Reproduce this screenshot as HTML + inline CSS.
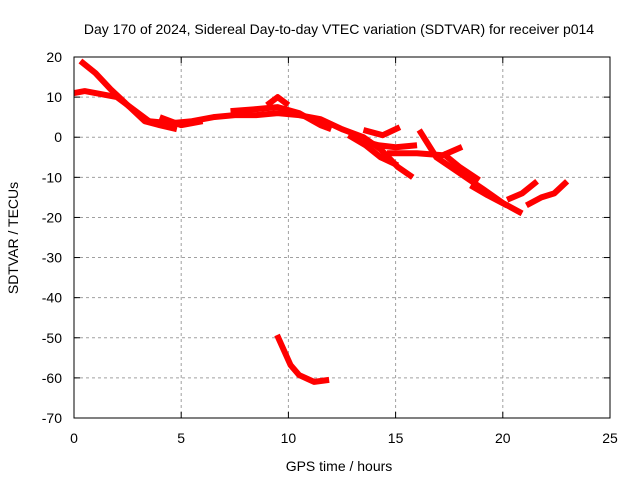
<!DOCTYPE html>
<html><head><meta charset="utf-8"><style>
body{margin:0;background:#fff}
svg{display:block;font-family:"Liberation Sans",sans-serif;font-size:14px}
</style></head><body>
<svg id="chart" width="640" height="480">
<rect width="640" height="480" fill="#fff"/>
<text x="339" y="34" text-anchor="middle">Day 170 of 2024, Sidereal Day-to-day VTEC variation (SDTVAR) for receiver p014</text>
<text x="339" y="471" text-anchor="middle">GPS time / hours</text>
<text x="18" y="238" text-anchor="middle" transform="rotate(-90 18 238)">SDTVAR / TECUs</text>
<g id="grid"></g><g id="series"></g>
<rect x="74" y="57" width="536" height="361" fill="none" stroke="#000"/>
</svg>
<script>
const xTicks=[0,5,10,15,20,25];
const yTicks=[20,10,0,-10,-20,-30,-40,-50,-60,-70];
const trackA_h=[0.3,1,1.7,2.5,3.3,4,4.8];
const trackA_v=[19,16,12,8,4,3,2];
const trackB_h=[0,0.5,1,1.5,2,2.5,3,3.5];
const trackB_v=[11,11.5,11,10.5,10,8,6,4];
const trackC_h=[3.5,4.5,5.5,6.5,7.5,8.5,9.5,10.5,11.5,12.5,13.5,14.3,15.1,15.8];
const trackC_v=[4,3.5,4,5,5.5,5.5,6,5.5,4.5,2,0,-3,-7.4,-10];
const trackD_h=[9,9.5,10];
const trackD_v=[8,10,8];
const trackE_h=[7.3,8.5,9.5,10.5,11.5,12];
const trackE_v=[6.5,7,7.5,6,3,2];
const trackF_h=[4,5,6];
const trackF_v=[5,3,4];
const trackG_h=[13.5,14.4,15.2];
const trackG_v=[1.8,0.5,2.5];
const trackH_h=[14.6,16,17.2,18.1];
const trackH_v=[-4,-4,-4.5,-2.4];
const trackI_h=[16.1,16.9,18,19.1,20,20.9];
const trackI_v=[1.8,-5,-9,-13,-16.4,-19];
const trackJ_h=[17.2,18,18.9];
const trackJ_v=[-4,-7.5,-10.7];
const trackK_h=[21.1,21.8,22.4,23];
const trackK_v=[-17,-15,-14,-11];
const trackL_h=[20.2,20.9,21.6];
const trackL_v=[-15.6,-14,-11];
const trackN_h=[12.8,13.6,14.3,15.1];
const trackN_v=[0.5,-2,-5,-7];
const trackO_h=[13.5,14.2,15,16];
const trackO_v=[-1,-2,-2.5,-2];
const trackP_h=[18.5,19.3,20.2];
const trackP_v=[-12,-14.5,-17];
const trackM_h=[9.47,10.1,10.5,11.2,11.9];
const trackM_v=[-49.3,-56.8,-59.3,-61,-60.5];
const tracks=[[trackA_h,trackA_v],[trackB_h,trackB_v],[trackC_h,trackC_v],[trackD_h,trackD_v],[trackE_h,trackE_v],[trackF_h,trackF_v],[trackG_h,trackG_v],[trackH_h,trackH_v],[trackI_h,trackI_v],[trackJ_h,trackJ_v],[trackK_h,trackK_v],[trackL_h,trackL_v],[trackN_h,trackN_v],[trackO_h,trackO_v],[trackP_h,trackP_v],[trackM_h,trackM_v]];
const X=h=>74+h*(536/25);
const Y=v=>57+(20-v)*(361/90);
const NS='http://www.w3.org/2000/svg';
const grid=document.getElementById('grid'),ser=document.getElementById('series');
function mk(tag,at,parent){const e=document.createElementNS(NS,tag);for(const k in at)e.setAttribute(k,at[k]);parent.appendChild(e);return e;}
xTicks.forEach(t=>{const x=X(t);
 if(t>0&&t<25){const g=mk('line',{x1:x,x2:x,y1:57,y2:418,stroke:'#a0a0a0','stroke-dasharray':'3,3'},grid);
 
 }
 mk('line',{x1:x,x2:x,y1:418,y2:412,stroke:'#000'},grid);mk('line',{x1:x,x2:x,y1:57,y2:63,stroke:'#000'},grid);
 const l=mk('text',{x:x,y:443,'text-anchor':'middle'},grid);l.textContent=t;
 
 });
yTicks.forEach(t=>{const y=Y(t);
 if(t<20&&t>-70){const g=mk('line',{x1:74,x2:610,y1:y,y2:y,stroke:'#a0a0a0','stroke-dasharray':'3,3'},grid);
 
 }
 mk('line',{x1:74,x2:80,y1:y,y2:y,stroke:'#000'},grid);mk('line',{x1:604,x2:610,y1:y,y2:y,stroke:'#000'},grid);
 const l=mk('text',{x:62,y:y+5,'text-anchor':'end'},grid);l.textContent=t;
 
 });
tracks.forEach(([hs,vs])=>{const p=mk('polyline',{points:hs.map((h,i)=>X(h)+','+Y(vs[i])).join(' '),fill:'none',stroke:'#f00','stroke-width':6,'stroke-linejoin':'round','stroke-linecap':'butt'},ser);
 
 });
</script>
</body></html>
